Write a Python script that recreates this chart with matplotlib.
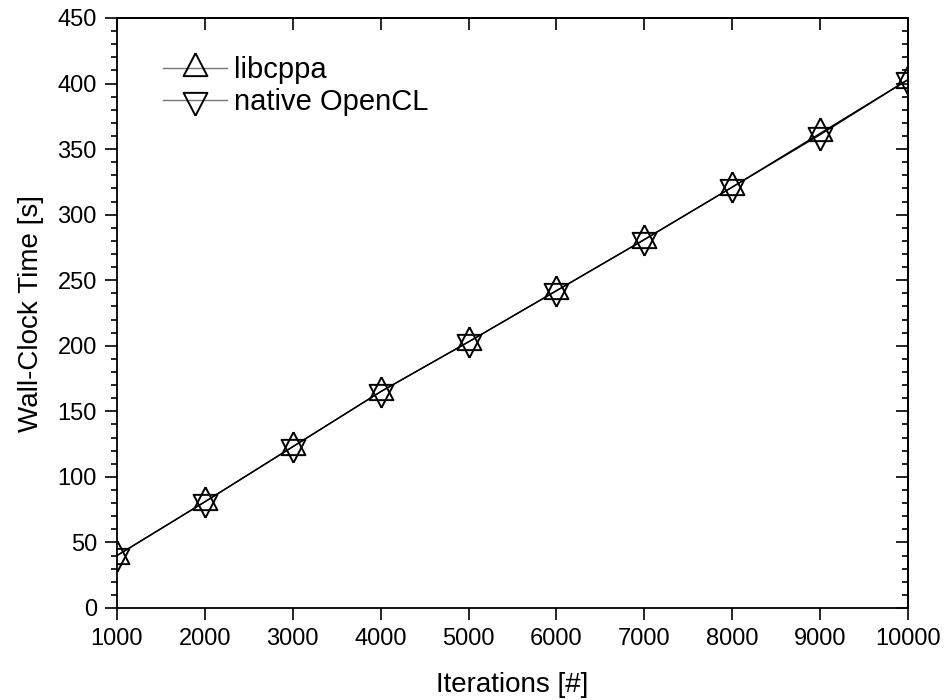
import matplotlib
matplotlib.use("Agg")
import matplotlib.pyplot as plt
from matplotlib.ticker import MultipleLocator, NullLocator

plt.rcParams['font.family'] = ['Liberation Sans', 'DejaVu Sans']

iterations = [1000, 2000, 3000, 4000, 5000, 6000, 7000, 8000, 9000, 10000]
libcppa = [40, 81, 123, 165, 203, 242, 281, 321, 362, 403]
native_opencl = [40, 81, 123, 165, 203, 242, 281, 321, 361, 403]

# triangles centred on their centroid (Origin style), so the two overlap as a star
tri_up = [(0, 2), (-1.56, -1), (1.56, -1), (0, 2)]
tri_down = [(0, -2), (-1.56, 1), (1.56, 1), (0, -2)]

fig = plt.figure(figsize=(9.47, 7.0), dpi=100)
ax = fig.add_axes([117 / 947, 1 - 608 / 700, 791 / 947, 590 / 700])

ax.plot(iterations, libcppa, color='black', lw=1, marker=tri_up, ms=22,
        mfc='none', mec='black', mew=1.4, label='libcppa')
ax.plot(iterations, native_opencl, color='black', lw=1, marker=tri_down, ms=22,
        mfc='none', mec='black', mew=1.4, label='native OpenCL')

ax.set_xlim(1000, 10000)
ax.set_ylim(0, 450)
ax.xaxis.set_major_locator(MultipleLocator(1000))
ax.xaxis.set_minor_locator(NullLocator())
ax.yaxis.set_major_locator(MultipleLocator(50))
ax.yaxis.set_minor_locator(MultipleLocator(10))
ax.tick_params(which='both', direction='out', labelsize=17, width=1.2)
ax.tick_params(which='major', length=8.5, pad=6)
ax.tick_params(which='minor', length=4.3)
for s in ax.spines.values():
    s.set_linewidth(1.3)

# right and top ticks point inwards
right = ax.secondary_yaxis('right')
right.yaxis.set_major_locator(MultipleLocator(50))
right.yaxis.set_minor_locator(MultipleLocator(10))
right.tick_params(which='both', direction='in', labelright=False, width=1.2)
right.tick_params(which='major', length=8.5)
right.tick_params(which='minor', length=4.3)
right.spines['right'].set_linewidth(1.3)

top = ax.secondary_xaxis('top')
top.xaxis.set_major_locator(MultipleLocator(1000))
top.xaxis.set_minor_locator(NullLocator())
top.tick_params(which='both', direction='in', labeltop=False, width=1.2, length=8.5)
top.spines['top'].set_linewidth(1.3)

ax.set_xlabel('Iterations [#]', fontsize=20, labelpad=16)
ax.set_ylabel('Wall-Clock Time [s]', fontsize=20, labelpad=10)

leg = ax.legend(loc='upper left', bbox_to_anchor=(163 / 947, 1 - 56 / 700),
                bbox_transform=fig.transFigure, frameon=False, fontsize=21,
                handlelength=2.2, handletextpad=0.25, labelspacing=0.15,
                borderpad=0, borderaxespad=0)
for h in leg.get_lines():
    h.set_color('#777777')
    h.set_linewidth(1)
    h.set_markeredgecolor('black')

fig.savefig('out.png', dpi=100)
